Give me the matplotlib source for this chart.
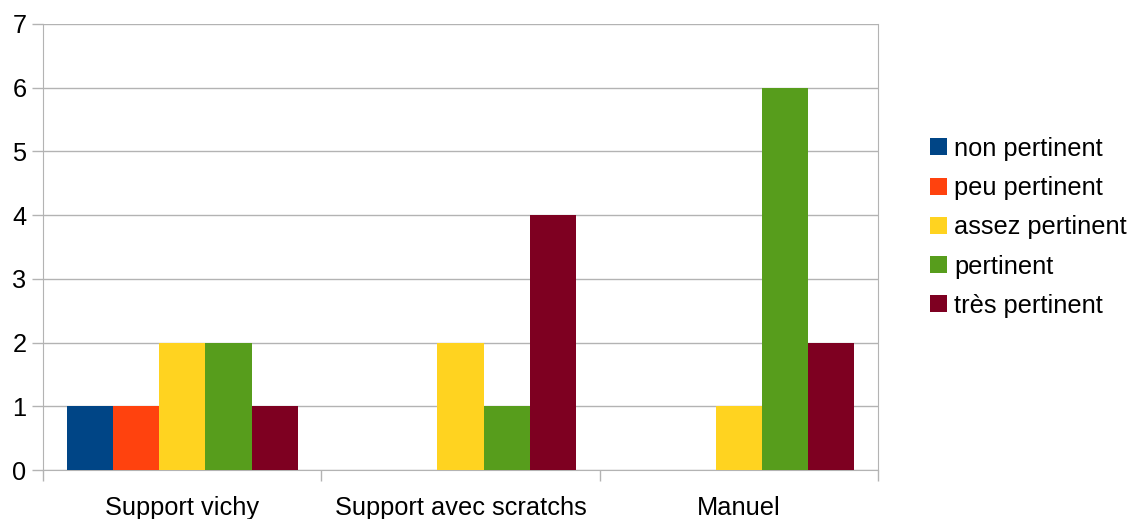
import numpy as np
import matplotlib.pyplot as plt

plt.rcParams['font.family'] = ['Liberation Sans', 'DejaVu Sans']

categories = ["Support vichy", "Support avec scratchs", "Manuel"]
series = ["non pertinent", "peu pertinent", "assez pertinent", "pertinent", "très pertinent"]
values = [
    [1, 0, 0],   # non pertinent
    [1, 0, 0],   # peu pertinent
    [2, 2, 1],   # assez pertinent
    [2, 1, 6],   # pertinent
    [1, 4, 2],   # très pertinent
]
colors = ["#004586", "#ff420e", "#ffd320", "#579d1c", "#7e0021"]

fig = plt.figure(figsize=(11.33, 5.19), dpi=100)
ax = fig.add_axes([0.038, 0.0944, 0.737, 0.8594])

x = np.arange(len(categories))
w = 0.166
for i, (name, vals) in enumerate(zip(series, values)):
    ax.bar(x + (i - 2) * w, vals, width=w, color=colors[i], label=name, zorder=3)

ax.set_xlim(-0.5, len(categories) - 0.5)
ax.set_ylim(0, 7)
ax.set_yticks(range(8))
ax.yaxis.grid(True, color="#b3b3b3", linewidth=1, zorder=0)

ax.set_xticks(x)
ax.set_xticklabels(categories)
ax.set_xticks(np.arange(-0.5, len(categories)), minor=True)
ax.tick_params(axis='x', which='major', length=0, pad=19, labelsize=18.3)
ax.tick_params(axis='x', which='minor', length=8, color="#b3b3b3", width=1)
ax.tick_params(axis='y', length=8, color="#b3b3b3", width=1, pad=4, labelsize=18.3)

for s in ['left', 'bottom', 'right']:
    ax.spines[s].set_color("#b3b3b3")
ax.spines['top'].set_visible(False)

fig.legend(loc='center left', bbox_to_anchor=(0.812, 0.562), frameon=False,
           fontsize=18.3, handlelength=0.65, handleheight=0.65, handletextpad=0.3,
           labelspacing=0.6, borderaxespad=0)

fig.savefig("out.png", dpi=100)
